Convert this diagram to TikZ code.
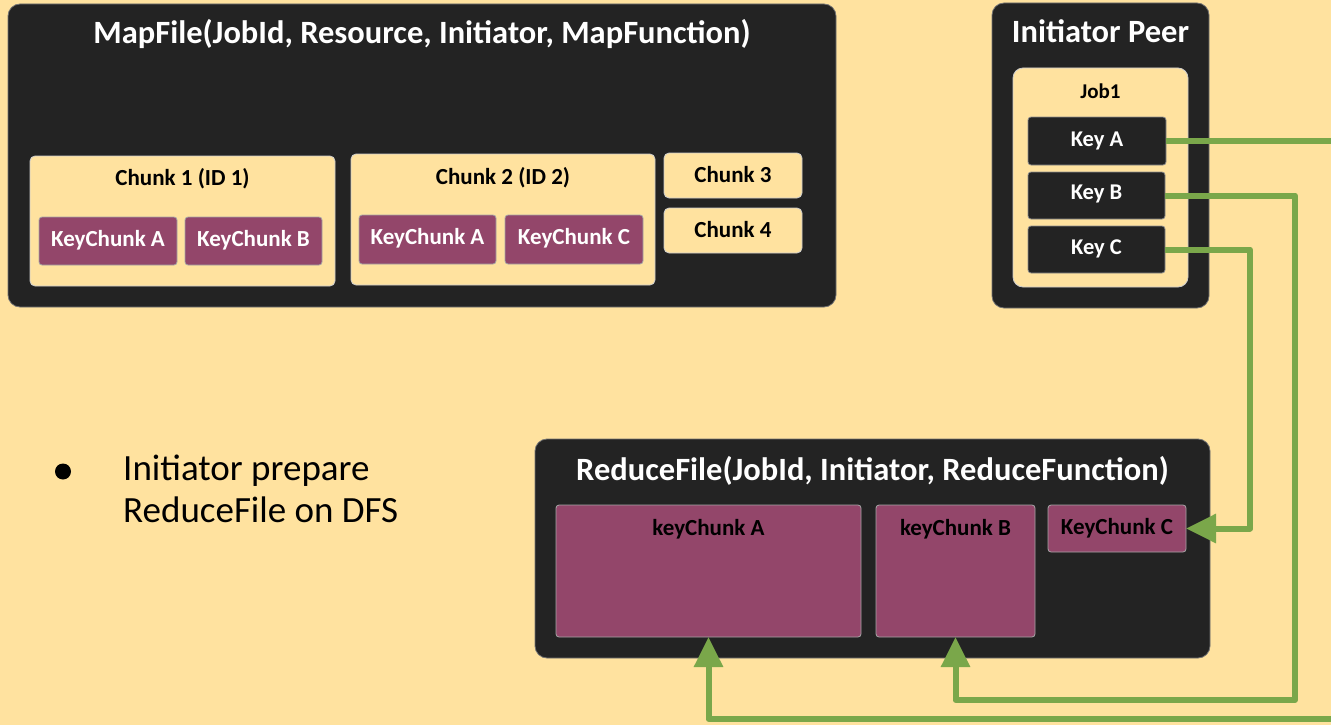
\documentclass[tikz,border=0pt]{standalone}
\usepackage{fontspec}
\setmainfont{Carlito}
\usetikzlibrary{arrows.meta,fit}
\definecolor{bg}{HTML}{FFE29F}
\definecolor{panel}{HTML}{232323}
\definecolor{plum}{HTML}{93466A}
\definecolor{link}{HTML}{7AA74A}
\tikzset{
  box/.style={inner sep=0pt, outer sep=0pt, line width=0.8pt},
  panel/.style={box, fill=panel, draw=black!55, rounded corners=12pt},
  chunk/.style={box, fill=bg, draw=black!20, rounded corners=5pt},
  keychunk/.style={box, fill=plum, draw=black!35, rounded corners=3pt},
  keybox/.style={box, fill=panel, draw=black!45, rounded corners=3pt},
  title/.style={anchor=base, inner sep=0pt, text=white,
    font=\bfseries\fontsize{32.5}{36}\selectfont},
  label/.style={anchor=base, inner sep=0pt,
    font=\bfseries\fontsize{23}{26}\selectfont},
  keylabel/.style={label, text=white, font=\bfseries\fontsize{22.5}{25}\selectfont},
  note/.style={anchor=base west, inner sep=0pt, font=\fontsize{37}{43}\selectfont},
  link/.style={draw=link, line width=6pt, line join=round},
  tip/.style={-{Triangle[length=30pt,width=28pt]}},
}
\begin{document}
\begin{tikzpicture}[x=1pt,y=-1pt]
\useasboundingbox (0,0) rectangle (1331,725);
\fill[bg] (0,0) rectangle (1331,725);
\clip (0,0) rectangle (1331,725);

% MapFile panel
\node[panel, fit={(8,4) (836,307)}] (map) {};
\node[title] (maptitle) at (422,44) {MapFile(JobId, Resource, Initiator, MapFunction)};
\node[chunk, fit={(30,156) (335,286)}] (c1) {};
\node[label] (c1t) at (182.5,185) {Chunk 1 (ID 1)};
\node[keychunk, fit={(39,217) (177,265)}] (m1a) {};
\node[label, text=white] at (108,246) {KeyChunk A};
\node[keychunk, fit={(185,217) (322,265)}] (m1b) {};
\node[label, text=white] at (253.5,246) {KeyChunk B};
\node[chunk, fit={(351,154) (655,285)}] (c2) {};
\node[label] (c2t) at (503,184) {Chunk 2 (ID 2)};
\node[keychunk, fit={(359,215) (496,264)}] (m2a) {};
\node[label, text=white] at (427.5,244) {KeyChunk A};
\node[keychunk, fit={(505,215) (643,264)}] (m2c) {};
\node[label, text=white] at (574,244) {KeyChunk C};
\node[chunk, fit={(664,153) (802,198)}] (c3) {};
\node[label] at (733,182) {Chunk 3};
\node[chunk, fit={(664,208) (802,253)}] (c4) {};
\node[label] at (733,237) {Chunk 4};

% Initiator peer
\node[panel, fit={(992,3) (1209,308)}] (peer) {};
\node[title] (peert) at (1100.5,43) {Initiator Peer};
\node[chunk, rounded corners=10pt, fit={(1013,68) (1188,287)}] (job) {};
\node[label, font=\bfseries\fontsize{21}{24}\selectfont] (jobt) at (1100.5,99) {Job1};
\node[keybox, fit={(1028,117) (1166,165)}] (keyA) {};
\node[keylabel] at (1097,146) {Key A};
\node[keybox, fit={(1028,172) (1165,219)}] (keyB) {};
\node[keylabel] at (1096.5,199) {Key B};
\node[keybox, fit={(1028,226) (1165,273)}] (keyC) {};
\node[keylabel] at (1096.5,254) {Key C};

% ReduceFile panel
\node[panel, fit={(535,439) (1210,658)}] (red) {};
\node[title] (redt) at (872.5,480) {ReduceFile(JobId, Initiator, ReduceFunction)};
\node[keychunk, fit={(556,505) (861,637)}] (rA) {};
\node[label] (rAt) at (708.5,535) {keyChunk A};
\node[keychunk, fit={(876,505) (1035,637)}] (rB) {};
\node[label] (rBt) at (955.5,535) {keyChunk B};
\node[keychunk, fit={(1048,505) (1186,552)}] (rC) {};
\node[label] (rCt) at (1117,534) {KeyChunk C};

% bullet note
\fill (63,471.5) circle (8);
\node[note] (n1) at (123,480) {Initiator prepare};
\node[note] (n2) at (123,522) {ReduceFile on DFS};

% key routing
\coordinate (a1) at (1345,141);
\coordinate (a2) at (1345,719);
\coordinate (b1) at (1295,700);
\path (rC.east) ++(64,0) coordinate (c1);
\draw[link, tip] (keyA.east) -- (a1) -- (a2) -| (rA.south);
\draw[link, tip] (keyB.east) -| (b1) -| (rB.south);
\draw[link, tip] (keyC.east) -| (c1) -- (rC.east);
\end{tikzpicture}
\end{document}
